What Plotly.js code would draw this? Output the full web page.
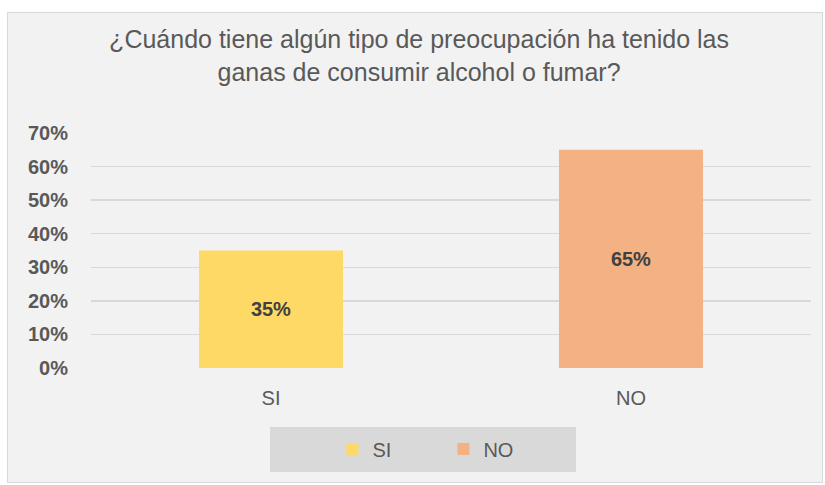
<!DOCTYPE html>
<html><head><meta charset="utf-8">
<script src="https://cdn.plot.ly/plotly-3.0.1.min.js"></script>
<style>
html,body{margin:0;padding:0;background:#fff;}
#wrap{position:absolute;left:7px;top:12px;width:814px;height:469px;border:1px solid #d9d9d9;background:#f2f2f2;}
#chart{width:814px;height:469px;}
</style></head>
<body><div id="wrap"><div id="chart"></div></div>
<script>
const categories = ["SI", "NO"];
const values = [0.35, 0.65];
const labels = ["35%", "65%"];
const colors = ["#FFD966", "#F4B183"];
const yTicks = [0, 0.1, 0.2, 0.3, 0.4, 0.5, 0.6, 0.7];
const yTickText = ["0%", "10%", "20%", "30%", "40%", "50%", "60%", "70%"];
const titleText = "¿Cuándo tiene algún tipo de preocupación ha tenido las<br>ganas de consumir alcohol o fumar?";

const FONT = "Liberation Sans, Arial, sans-serif";

const traces = categories.map((c, i) => ({
  type: "bar",
  name: c,
  x: [c],
  y: [values[i]],
  text: [labels[i]],
  textposition: "inside",
  insidetextanchor: "middle",
  textfont: {family: FONT, size: 20, color: "#404040", weight: "bold"},
  marker: {color: colors[i]},
  hoverinfo: "none"
}));

const layout = {
  width: 814, height: 469,
  paper_bgcolor: "#f2f2f2",
  plot_bgcolor: "#f2f2f2",
  margin: {l: 83, r: 11, t: 120, b: 114},
  barmode: "overlay",
  bargap: 0.6,
  showlegend: true,
  title: {
    text: titleText,
    font: {family: FONT, size: 25, color: "#595959"},
    x: 0.505, xanchor: "center", y: 0.925, yanchor: "top"
  },
  xaxis: {
    type: "category",
    categoryarray: categories,
    showgrid: false, zeroline: false, showline: false,
    tickfont: {family: FONT, size: 20, color: "#595959"},
    ticklabelstandoff: 16
  },
  yaxis: {
    range: [0, 0.7],
    tickvals: yTicks,
    ticktext: yTickText,
    showgrid: true, gridcolor: "#d9d9d9", gridwidth: 1.4,
    zeroline: false, showline: false,
    tickfont: {family: FONT, size: 20, color: "#595959", weight: "bold"},
    ticklabelstandoff: 22
  },
  legend: {
    orientation: "h",
    x: 0.3353, xanchor: "left",
    y: -0.345, yanchor: "middle",
    bgcolor: "rgba(0,0,0,0)",
    font: {family: FONT, size: 20, color: "#595959"},
    entrywidth: 66
  },
  shapes: [{
    type: "rect", xref: "paper", yref: "paper",
    x0: 0.2486, x1: 0.6736, y0: -0.251, y1: -0.4426,
    fillcolor: "#d9d9d9", line: {width: 0}, layer: "below"
  }]
};

Plotly.newPlot("chart", traces, layout, {displayModeBar: false, staticPlot: true});
</script></body></html>
